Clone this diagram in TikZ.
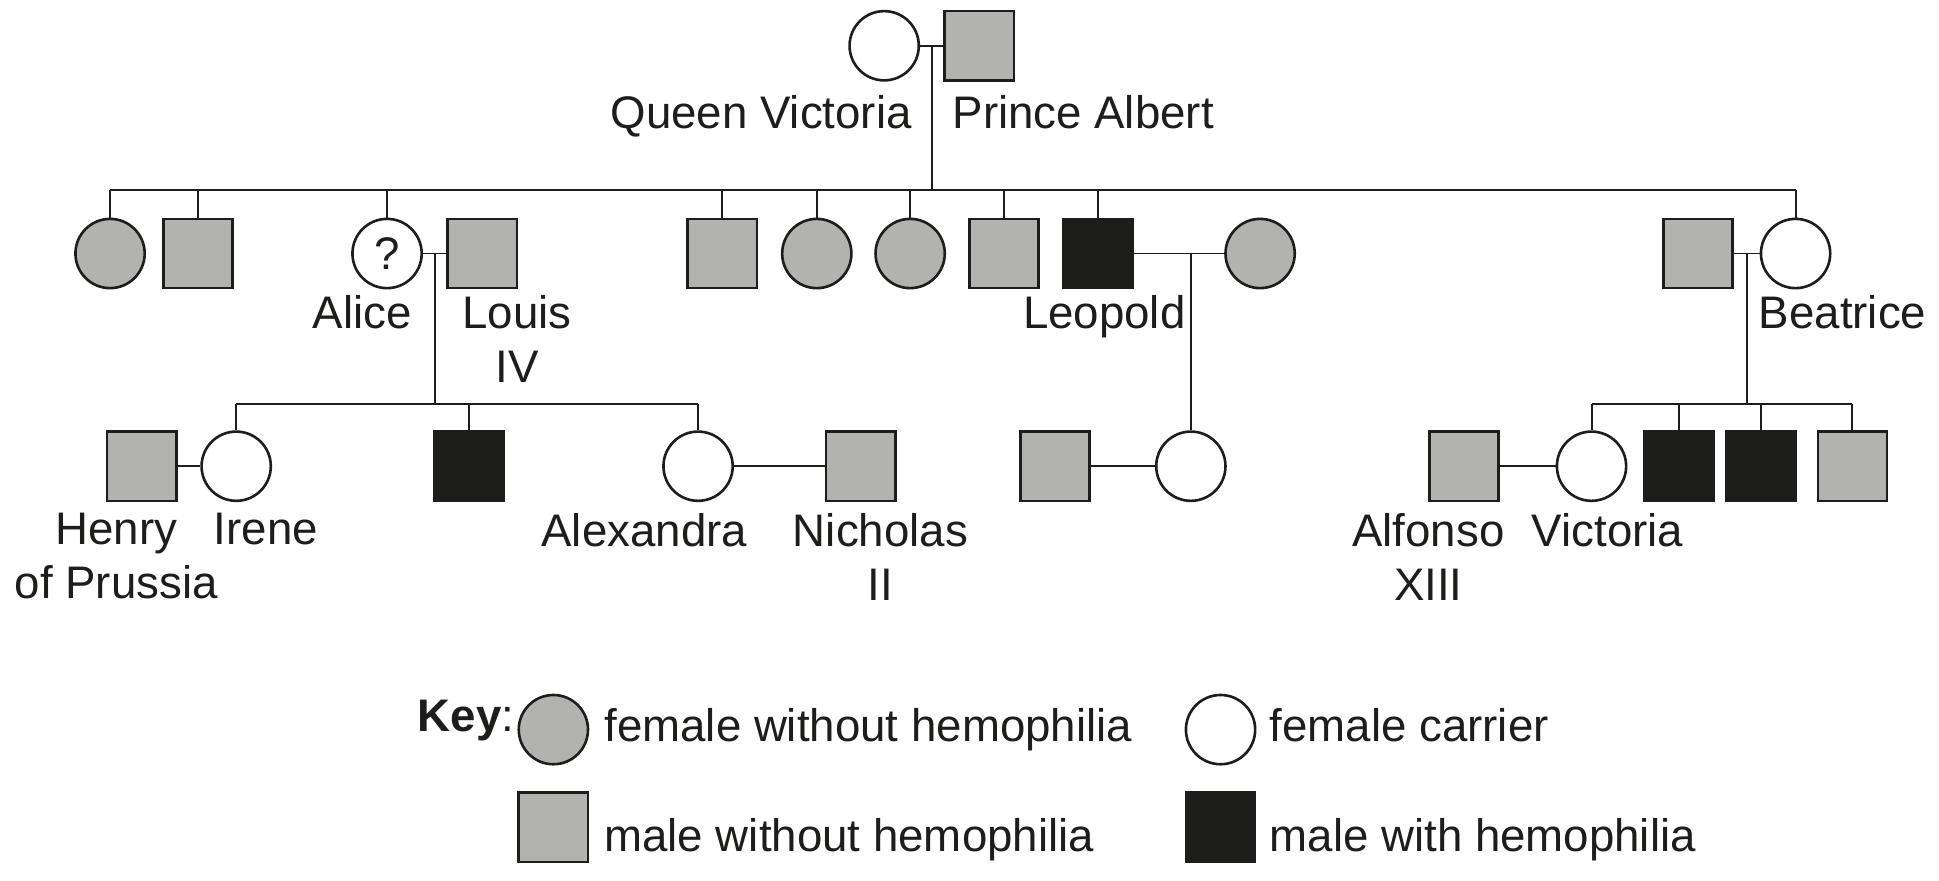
\documentclass[tikz,border=0pt]{standalone}
\usepackage{fontspec}
\setmainfont{Liberation Sans}
\definecolor{pedgrey}{RGB}{178,178,177}
\definecolor{pedblack}{RGB}{29,29,27}
\newcommand\pedfont{\fontsize{10.5}{12.5}\selectfont}
\begin{document}
\begin{tikzpicture}[
        line width=0.45pt, color=pedblack,
        fem/.style={circle, draw, line width=0.6pt, minimum size=0.56cm, inner sep=0pt},
        mal/.style={rectangle, draw, line width=0.6pt, minimum size=0.56cm, inner sep=0pt},
        nohemo/.style={fill=pedgrey},
        hemo/.style={fill=pedblack},
        carrier/.style={fill=white},
        lbl/.style={inner sep=0pt, align=center, font=\pedfont}
    ]
        \useasboundingbox (0,0) rectangle (15.68,7.12);
        \coordinate (sib) at (0,5.58);
        \coordinate (kids) at (0,3.85);

        % generation I
        \node [fem, carrier] (qv) at (7.15,6.75) {};
        \node [mal, nohemo] (pa) at (7.92,6.75) {};
        \node [lbl, anchor=north east] (qvname) at (7.38,6.36) {Queen Victoria};
        \node [lbl, anchor=north west] (paname) at (7.695,6.36) {Prince Albert};

        % generation II
        \node [fem, nohemo] (f1) at (0.89,5.07) {};
        \node [mal, nohemo] (m1) at (1.60,5.07) {};
        \node [fem, carrier, font=\pedfont] (alice) at (3.13,5.07) {?};
        \node [mal, nohemo] (louis) at (3.90,5.07) {};
        \node [mal, nohemo] (m2) at (5.84,5.07) {};
        \node [fem, nohemo] (f2) at (6.605,5.07) {};
        \node [fem, nohemo] (f3) at (7.36,5.07) {};
        \node [mal, nohemo] (m3) at (8.12,5.07) {};
        \node [mal, hemo] (leopold) at (8.88,5.07) {};
        \node [fem, nohemo] (leowife) at (10.19,5.07) {};
        \node [mal, nohemo] (beahus) at (13.73,5.07) {};
        \node [fem, carrier] (beatrice) at (14.52,5.07) {};
        \node [lbl, anchor=north] (alicename) at (2.93,4.74) {Alice};
        \node [lbl, anchor=north] (louisname) at (4.18,4.74) {Louis\\IV};
        \node [lbl, anchor=north] (leoname) at (8.93,4.74) {Leopold};
        \node [lbl, anchor=north] (beaname) at (14.90,4.74) {Beatrice};

        % generation III
        \node [mal, nohemo] (henry) at (1.145,3.35) {};
        \node [fem, carrier] (irene) at (1.91,3.35) {};
        \node [mal, hemo] (m4) at (3.79,3.35) {};
        \node [fem, carrier] (alexandra) at (5.645,3.35) {};
        \node [mal, nohemo] (nicholas) at (6.96,3.35) {};
        \node [mal, nohemo] (leoson) at (8.53,3.35) {};
        \node [fem, carrier] (leodau) at (9.63,3.35) {};
        \node [mal, nohemo] (alfonso) at (11.84,3.35) {};
        \node [fem, carrier] (victoria) at (12.87,3.35) {};
        \node [mal, hemo] (b1) at (13.575,3.35) {};
        \node [mal, hemo] (b2) at (14.24,3.35) {};
        \node [mal, nohemo] (b3) at (14.98,3.35) {};
        \node [lbl, anchor=north] (henryname) at (0.94,2.98) {Henry\\of Prussia};
        \node [lbl, anchor=north] (irenename) at (2.15,2.98) {Irene};
        \node [lbl, anchor=north] (alexname) at (5.21,2.98) {Alexandra};
        \node [lbl, anchor=north] (nicname) at (7.12,2.98) {Nicholas\\II};
        \node [lbl, anchor=north] (alfname) at (11.55,2.98) {Alfonso\\XIII};
        \node [lbl, anchor=north] (vicname) at (13.00,2.98) {Victoria};

        % key
        \node [lbl, anchor=north west] (keyhead) at (3.37,1.47) {\textbf{Key}:};
        \node [fem, nohemo] (keyf) at (4.475,1.22) {};
        \node [fem, carrier] (keyc) at (9.87,1.22) {};
        \node [mal, nohemo] (keym) at (4.475,0.43) {};
        \node [mal, hemo] (keyh) at (9.87,0.43) {};
        \node [lbl, anchor=north west] (keyftext) at (4.88,1.40) {female without hemophilia};
        \node [lbl, anchor=north west] (keyctext) at (10.26,1.40) {female carrier};
        \node [lbl, anchor=north west] (keymtext) at (4.88,0.51) {male without hemophilia};
        \node [lbl, anchor=north west] (keyhtext) at (10.26,0.51) {male with hemophilia};

        % lines
        \draw (qv) -- coordinate (u0) (pa);
        \draw (u0) -- (u0 |- sib);
        \draw (f1.north |- sib) -- (beatrice.north |- sib);
        \foreach \c in {f1,m1,alice,m2,f2,f3,m3,leopold,beatrice}
            \draw (\c.north) -- (\c.north |- sib);

        \draw (alice) -- coordinate (u1) (louis);
        \draw (u1) -- (u1 |- kids);
        \draw (irene.north |- kids) -- (alexandra.north |- kids);
        \foreach \c in {irene,m4,alexandra}
            \draw (\c.north) -- (\c.north |- kids);

        \draw (leopold) -- (leowife);
        \draw (leodau.north |- leopold) -- (leodau.north);

        \draw (beahus) -- coordinate (u2) (beatrice);
        \draw (u2) -- (u2 |- kids);
        \draw (victoria.north |- kids) -- (b3.north |- kids);
        \foreach \c in {victoria,b1,b2,b3}
            \draw (\c.north) -- (\c.north |- kids);

        \draw (henry) -- (irene);
        \draw (alexandra) -- (nicholas);
        \draw (leoson) -- (leodau);
        \draw (alfonso) -- (victoria);
    \end{tikzpicture}
\end{document}
